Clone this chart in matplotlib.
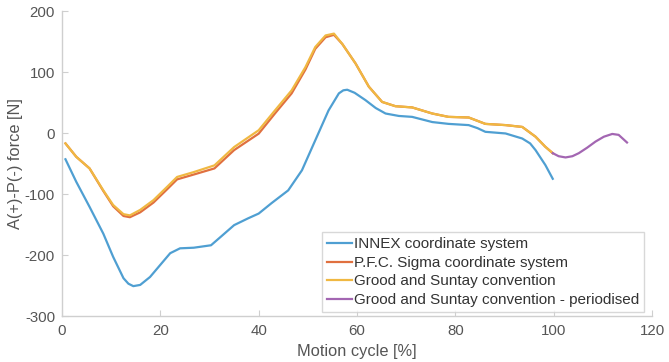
import matplotlib
matplotlib.use("Agg")
import matplotlib.pyplot as plt

plt.rcParams["font.family"] = ["Liberation Sans", "DejaVu Sans"]

# INNEX coordinate system
x_innex = [0.7, 2.9, 5.6, 8.4, 10.4, 12.5, 13.5, 14.5, 15.9, 17.9, 20, 22, 24, 26.8, 30.3, 32.3, 35, 37.8, 40,
           42.6, 46, 48.8, 51.5, 54.2, 56.3, 57.2, 58, 59.5, 61.7, 63.8, 65.8, 68.5, 71.2, 75.3, 78.6, 82.7, 84.5,
           86.1, 90.2, 93.6, 95.2, 96.3, 98.3, 99.8]
y_innex = [-43, -80, -121, -165, -203, -238, -247, -251, -249, -236, -216, -197, -189, -188, -184, -170, -151,
           -140, -132, -115, -94, -61, -12, 37, 65, 70, 71, 66, 54, 41, 32, 28, 26.5, 18, 15, 13, 8,
           2, -0.7, -9, -17, -28, -52.5, -75]

# P.F.C. Sigma coordinate system
x_pfc = [0.7, 2.9, 5.6, 8.4, 10.4, 12.5, 13.8, 15.9, 18.6, 21.4, 23.4, 26.8, 31, 35, 40, 43.3, 46.7, 49.5,
         51.5, 53.6, 55.3, 57, 59.7, 62.4, 65.1, 67.8, 71.2, 75.3, 78.6, 82.7, 86.1, 90.2, 93.6, 96.3, 98.3, 99.8]
y_pfc = [-17, -39, -58, -95, -120, -136, -138, -130, -114, -92, -76, -68, -58, -28, -1, 32, 65, 104,
         138, 157, 161, 146, 114, 76, 51, 44, 42, 32, 26.5, 25.5, 15, 13, 10, -6, -22.6, -33]

# Grood and Suntay convention
x_gs = [0.7, 2.9, 5.6, 8.4, 10.4, 12.5, 13.8, 15.9, 18.6, 21.4, 23.4, 26.8, 31, 35, 40, 43.3, 46.7, 49.5,
        51.5, 53.6, 55.3, 57, 59.7, 62.4, 65.1, 67.8, 71.2, 75.3, 78.6, 82.7, 86.1, 90.2, 93.6, 96.3, 98.3, 99.8]
y_gs = [-17, -39, -58, -94, -118, -133, -135, -126, -110, -88, -72, -64, -53, -23, 4.6, 37, 70, 108,
        141, 160, 163, 146, 114, 76, 51, 44, 42, 32, 26.5, 25.5, 15, 13, 10, -6, -22.6, -33]

# Grood and Suntay convention - periodised
x_per = [99.8, 101, 102.4, 103.8, 105.1, 106.8, 108.5, 110.2, 111.9, 113.2, 114.9]
y_per = [-33, -38, -40, -38, -33, -24, -14, -6, -1.5, -3, -15.5]

labels = ["INNEX coordinate system", "P.F.C. Sigma coordinate system",
          "Grood and Suntay convention", "Grood and Suntay convention - periodised"]
colors = ["#4f9fd2", "#e0703f", "#f0b842", "#a366b2"]

fig = plt.figure(figsize=(6.69, 3.62), dpi=100)
ax = fig.add_axes([0.0927, 0.127, 0.882, 0.8425])

ax.plot(x_innex, y_innex, color=colors[0], lw=1.6, label=labels[0])
ax.plot(x_pfc, y_pfc, color=colors[1], lw=1.6, label=labels[1])
ax.plot(x_gs, y_gs, color=colors[2], lw=1.6, label=labels[2])
ax.plot(x_per, y_per, color=colors[3], lw=1.6, label=labels[3])

ax.set_xlim(0, 120)
ax.set_ylim(-300, 200)
ax.set_xticks([0, 20, 40, 60, 80, 100, 120])
ax.set_yticks([-300, -200, -100, 0, 100, 200])
ax.set_yticklabels(["-300", "-200", "-100", "0", "100", "200"])

for s in ["top", "right"]:
    ax.spines[s].set_visible(False)
for s in ["left", "bottom"]:
    ax.spines[s].set_color("#cfcfcf")
    ax.spines[s].set_linewidth(1.0)
ax.tick_params(direction="in", length=4, color="#cfcfcf", labelcolor="#555555", labelsize=10.8)
ax.tick_params(axis="x", pad=6)
ax.tick_params(axis="y", pad=5)
ax.set_xlabel("Motion cycle [%]", fontsize=11.8, color="#555555", labelpad=4)
ax.set_ylabel("A(+)-P(-) force [N]", fontsize=11.8, color="#555555", labelpad=1)

leg = ax.legend(loc="lower right", bbox_to_anchor=(0.987, 0.012), fontsize=11, frameon=True,
                fancybox=False, edgecolor="#cfcfcf", handlelength=1.65, handletextpad=0.1,
                borderpad=0.35, labelspacing=0.3, borderaxespad=0.0)
for t in leg.get_texts():
    t.set_color("#333333")

fig.savefig("out.png", dpi=100)
